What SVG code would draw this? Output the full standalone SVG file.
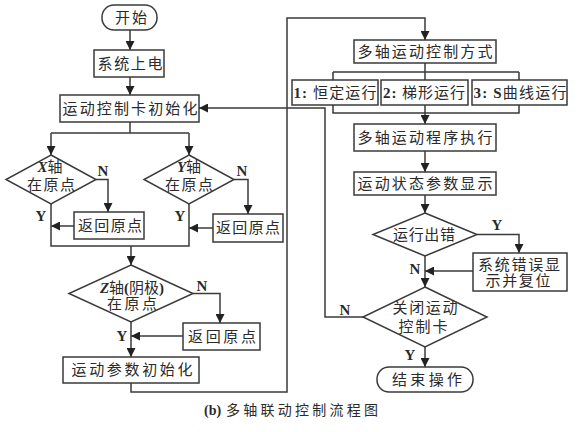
<svg xmlns="http://www.w3.org/2000/svg" width="579" height="432" viewBox="0 0 579 432">
<style>
.b{fill:#fff;stroke:#3a3a3a;stroke-width:1.5}
.t{font-family:"Liberation Serif","Noto Sans CJK SC",serif;font-size:15px;fill:#2a2a2a;text-anchor:middle}
.l{font-family:"Liberation Serif",serif;font-size:15px;font-weight:bold;fill:#2a2a2a;text-anchor:middle}
.c{fill:none;stroke:#3a3a3a;stroke-width:1.5}
.a{marker-end:url(#ah)}
.bi{font-weight:bold;font-style:italic;font-family:"Liberation Serif",serif}
.bd{font-weight:bold;font-family:"Liberation Serif",serif}
</style>
<defs>
<marker id="ah" viewBox="0 0 10 10" refX="10" refY="5" markerWidth="9" markerHeight="9" markerUnits="userSpaceOnUse" orient="auto">
<path d="M0,0 L10,5 L0,10 z" fill="#222"/>
</marker>
</defs>
<rect width="579" height="432" fill="#fff"/>

<g id="connectors">
<path class="c a" d="M130,30 V50"/>
<path class="c a" d="M130,77 V95"/>
<path class="c" d="M130,122 V133 M51,133 H189"/>
<path class="c a" d="M51,133 V155"/>
<path class="c a" d="M189,133 V155"/>
<path class="c a" d="M96,179.5 H108 V212"/>
<path class="c a" d="M74,226 H51"/>
<path class="c a" d="M234,179.5 H248 V214"/>
<path class="c a" d="M213,228 H189"/>
<path class="c" d="M51,204 V246 H189 V204"/>
<path class="c a" d="M131,246 V265"/>
<path class="c a" d="M193,293.5 H220 V323"/>
<path class="c a" d="M183,336 H131"/>
<path class="c a" d="M131,322 V357"/>
<path class="c a" d="M131,383 V392 H287 V18 H425 V40"/>
<path class="c" d="M425,63 V80 M333,72 H519 M333,72 V80 M519,72 V80"/>
<path class="c" d="M333,105 V113 H519 V105"/>
<path class="c a" d="M425,105 V124"/>
<path class="c a" d="M425,151 V172"/>
<path class="c a" d="M425,195 V213"/>
<path class="c a" d="M477,234.5 H519 V253"/>
<path class="c a" d="M473,271 H425"/>
<path class="c a" d="M425,256 V287"/>
<path class="c a" d="M363,317 H325 V108 H199"/>
<path class="c a" d="M425,347 V367"/>
</g>

<g id="start"><rect class="b" x="102" y="5" width="55" height="25" rx="12"/><text class="t" x="131" y="23" textLength="32" lengthAdjust="spacing">开始</text></g>
<g id="power"><rect class="b" x="94" y="50" width="70" height="27"/><text class="t" x="130" y="69" textLength="65" lengthAdjust="spacing">系统上电</text></g>
<g id="cardinit"><rect class="b" x="60" y="95" width="139" height="27"/><text class="t" x="130" y="114" textLength="135" lengthAdjust="spacing">运动控制卡初始化</text></g>

<g id="xdec"><polygon class="b" points="51,155 96,179.5 51,204 6,179.5"/>
<text class="t" x="50" y="172"><tspan class="bi">X</tspan>轴</text>
<text class="t" x="51" y="190" textLength="48" lengthAdjust="spacing">在原点</text></g>
<text class="l" x="103" y="176">N</text>
<text class="l" x="41" y="221">Y</text>
<g id="xhome"><rect class="b" x="74" y="212" width="70" height="27"/><text class="t" x="110" y="231" textLength="64" lengthAdjust="spacing">返回原点</text></g>

<g id="ydec"><polygon class="b" points="189,155 234,179.5 189,204 144,179.5"/>
<text class="t" x="189" y="172"><tspan class="bi">Y</tspan>轴</text>
<text class="t" x="189" y="190" textLength="48" lengthAdjust="spacing">在原点</text></g>
<text class="l" x="242" y="176">N</text>
<text class="l" x="180" y="221">Y</text>
<g id="yhome"><rect class="b" x="213" y="214" width="70" height="28"/><text class="t" x="248" y="233" textLength="64" lengthAdjust="spacing">返回原点</text></g>

<g id="zdec"><polygon class="b" points="131,265 193,293.5 131,322 69,293.5"/>
<text class="t" x="132" y="293"><tspan class="bi">Z</tspan>轴<tspan class="bd">(</tspan>阴极<tspan class="bd">)</tspan></text>
<text class="t" x="132" y="309" textLength="50" lengthAdjust="spacing">在原点</text></g>
<text class="l" x="202" y="291">N</text>
<text class="l" x="122" y="341">Y</text>
<g id="zhome"><rect class="b" x="183" y="323" width="77" height="27"/><text class="t" x="222" y="342" textLength="68" lengthAdjust="spacing">返回原点</text></g>

<g id="paraminit"><rect class="b" x="63" y="357" width="136" height="26"/><text class="t" x="132" y="375" textLength="121" lengthAdjust="spacing">运动参数初始化</text></g>

<g id="mode"><rect class="b" x="354" y="40" width="142" height="23"/><text class="t" x="425" y="57" textLength="135" lengthAdjust="spacing">多轴运动控制方式</text></g>
<g id="mode1"><rect class="b" x="292" y="80" width="86" height="25"/><text class="t" x="335" y="98" textLength="83" lengthAdjust="spacing"><tspan class="bd">1:</tspan> 恒定运行</text></g>
<g id="mode2"><rect class="b" x="381" y="80" width="87" height="25"/><text class="t" x="424" y="98" textLength="82" lengthAdjust="spacing"><tspan class="bd">2:</tspan> 梯形运行</text></g>
<g id="mode3"><rect class="b" x="472" y="80" width="95" height="25"/><text class="t" x="520" y="98" textLength="93" lengthAdjust="spacing"><tspan class="bd">3: S</tspan>曲线运行</text></g>
<g id="exec"><rect class="b" x="354" y="124" width="142" height="27"/><text class="t" x="425" y="143" textLength="135" lengthAdjust="spacing">多轴运动程序执行</text></g>
<g id="status"><rect class="b" x="354" y="172" width="142" height="23"/><text class="t" x="425" y="189" textLength="135" lengthAdjust="spacing">运动状态参数显示</text></g>

<g id="errdec"><polygon class="b" points="425,213 477,234.5 425,256 373,234.5"/><text class="t" x="424" y="240" textLength="62" lengthAdjust="spacing">运行出错</text></g>
<text class="l" x="497" y="230">Y</text>
<g id="errbox"><rect class="b" x="473" y="253" width="94" height="38"/>
<text class="t" x="519" y="270" textLength="82" lengthAdjust="spacing">系统错误显</text>
<text class="t" x="518" y="286" textLength="65" lengthAdjust="spacing">示并复位</text></g>
<text class="l" x="415" y="274">N</text>

<g id="closedec"><polygon class="b" points="425,287 487,317 425,347 363,317"/>
<text class="t" x="425" y="313" textLength="65" lengthAdjust="spacing">关闭运动</text>
<text class="t" x="423" y="332" textLength="49" lengthAdjust="spacing">控制卡</text></g>
<text class="l" x="345" y="315">N</text>
<text class="l" x="410" y="360">Y</text>
<g id="end"><rect class="b" x="377" y="367" width="96" height="25" rx="12"/><text class="t" x="427" y="385" textLength="70" lengthAdjust="spacing">结束操作</text></g>

<text class="t" x="204" y="415" style="font-size:14px;text-anchor:start"><tspan class="bd">(b)</tspan><tspan x="226" textLength="152" lengthAdjust="spacing">多轴联动控制流程图</tspan></text>
</svg>
